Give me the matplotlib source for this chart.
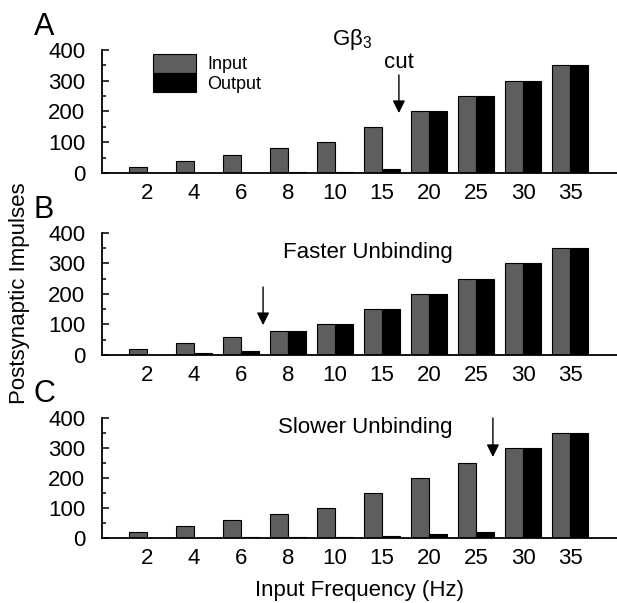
import numpy as np
import matplotlib
matplotlib.use('Agg')
import matplotlib.pyplot as plt
from matplotlib.ticker import MultipleLocator

plt.rcParams['font.family'] = ['Liberation Sans', 'DejaVu Sans']
plt.rcParams['mathtext.default'] = 'regular'

freqs = ['2', '4', '6', '8', '10', '15', '20', '25', '30', '35']
input_imp = [20, 40, 60, 80, 100, 150, 200, 250, 300, 350]
output_a = [0, 1, 1, 2, 3, 12, 200, 250, 300, 350]
output_b = [0, 6, 12, 80, 100, 150, 200, 250, 300, 350]
output_c = [0, 0, 2, 3, 4, 6, 12, 20, 300, 350]

panel_letters = ['A', 'B', 'C']
panel_titles = ['G\u03b2$_3$', 'Faster Unbinding', 'Slower Unbinding']

gray = '#5e5e5e'
w = 0.38
x = np.arange(len(freqs))

fig = plt.figure(figsize=(6.17, 6.03), dpi=100)

# axes boxes in figure fraction (left, bottom, width, height)
boxes = [(0.1653, 0.7131, 0.8347, 0.2040),
         (0.1653, 0.4113, 0.8347, 0.2023),
         (0.1653, 0.1078, 0.8347, 0.1990)]
outputs = [output_a, output_b, output_c]
axes = []
for box, out in zip(boxes, outputs):
    ax = fig.add_axes(box)
    ax.bar(x - w / 2, input_imp, w, color=gray, edgecolor='k', linewidth=0.8, label='Input')
    ax.bar(x + w / 2, out, w, color='k', edgecolor='k', linewidth=0.8, label='Output')
    ax.set_xlim(-0.957, 10.0)
    ax.set_ylim(0, 400)
    ax.set_xticks(x, freqs)
    ax.set_yticks([0, 100, 200, 300, 400])
    ax.yaxis.set_minor_locator(MultipleLocator(50))
    ax.tick_params(axis='x', length=0, pad=7, labelsize=16)
    ax.tick_params(axis='y', which='major', direction='in', length=5, width=1.1, pad=12, labelsize=16)
    ax.tick_params(axis='y', which='minor', direction='in', length=3, width=1.1)
    for s in ['top', 'right']:
        ax.spines[s].set_visible(False)
    for s in ['left', 'bottom']:
        ax.spines[s].set_linewidth(1.3)
    axes.append(ax)

arrow_kw = dict(arrowstyle='-|>,head_length=0.5,head_width=0.25', color='k',
                lw=1.0, mutation_scale=15, shrinkA=0, shrinkB=0)

# panel A
axes[0].text(3.94, 416, panel_titles[0], fontsize=16, va='baseline', ha='left')
axes[0].text(5.36, 341, 'cut', fontsize=16, va='baseline', ha='center')
axes[0].annotate('', xy=(5.36, 195), xytext=(5.36, 319), arrowprops=arrow_kw)
axes[0].legend(loc='upper left', bbox_to_anchor=(0.099, 0.9675), frameon=False,
               fontsize=13, borderpad=0, borderaxespad=0, labelspacing=0,
               handlelength=2.39, handleheight=1.22, handletextpad=0.6)

# panel B
axes[1].text(4.69, 318, panel_titles[1], fontsize=16, va='baseline', ha='center')
axes[1].annotate('', xy=(2.47, 98), xytext=(2.47, 223), arrowprops=arrow_kw)

# panel C
axes[2].text(4.65, 350, panel_titles[2], fontsize=16, va='baseline', ha='center')
axes[2].annotate('', xy=(7.36, 270), xytext=(7.36, 400), arrowprops=arrow_kw,
                 annotation_clip=False)

for letter, yb in zip(panel_letters, [0.942, 0.6385, 0.3333]):
    fig.text(0.055, yb, letter, fontsize=22, va='baseline', ha='left')

fig.text(0.0324, 0.514, 'Postsynaptic Impulses', rotation=90, fontsize=16,
         va='center', ha='center')
fig.text(0.582, 0.012, 'Input Frequency (Hz)', fontsize=16, va='baseline', ha='center')

fig.savefig('out.png', dpi=100)
